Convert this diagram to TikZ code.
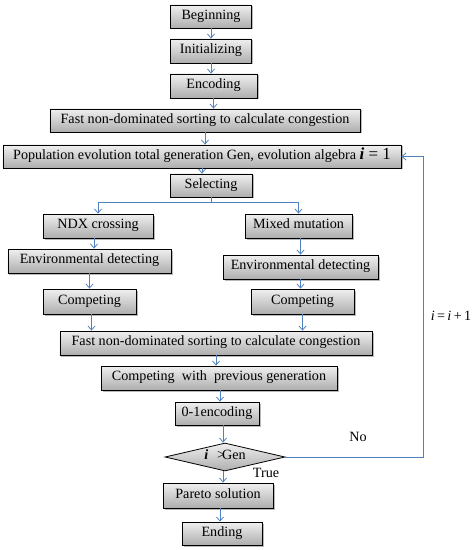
\documentclass[tikz,border=0pt]{standalone}
\usepackage{fontspec}
\setmainfont{Liberation Serif}
\usepackage{xcolor}
\usepackage{tikz}
\usetikzlibrary{
  arrows.meta,
  shadows,
  shapes.geometric
}
\definecolor{flowblue}{RGB}{79,129,189}
\begin{document}
\begin{tikzpicture}[x=1bp, y=-1bp,
    every node/.style={font=\fontsize{14.2}{16}\selectfont, text height=1.5ex, text depth=.25ex},
    field/.style={draw, rectangle, thick, inner sep=0pt, top color=white!94!black, bottom color=white!68!black,
      drop shadow={shadow xshift=1.5bp, shadow yshift=-1.5bp, fill=black!55}},
    decision/.style={draw, diamond, thick, inner sep=0pt, aspect=4.3, top color=white!94!black, bottom color=white!68!black},
    flow/.style={draw=flowblue, thick, -{Straight Barb[length=4bp, width=7bp]}},
    plain/.style={text height=, text depth=}]
\useasboundingbox (0,0) rectangle (475,550);
\node [field, minimum width=81bp, minimum height=23bp] (begin) at (211,16.5) {Beginning};
\node [field, minimum width=81bp, minimum height=24bp] (init) at (211,51) {Initializing};
\node [field, minimum width=87bp, minimum height=24bp] (enc) at (213.5,86) {Encoding};
\node [field, minimum width=310bp, minimum height=23bp] (fast1) at (205,120.5) {Fast non-dominated sorting to calculate congestion};
\node [field, minimum width=398bp, minimum height=23bp] (pop) at (202,156.5)
  {Population evolution total generation Gen, evolution algebra {\fontsize{17}{17}\selectfont\textbf{\textit{i}} = 1}};
\node [field, minimum width=82bp, minimum height=23bp] (sel) at (211,185.5) {Selecting};
\node [field, minimum width=110bp, minimum height=24bp] (ndx) at (98,226) {NDX crossing};
\node [field, minimum width=107bp, minimum height=24bp] (mix) at (298.5,226) {Mixed mutation};
\node [field, minimum width=163bp, minimum height=24bp] (envl) at (89.5,261) {Environmental detecting};
\node [field, minimum width=155bp, minimum height=24bp] (envr) at (300.5,267) {Environmental detecting};
\node [field, minimum width=93bp, minimum height=25bp] (compl) at (89.5,301.5) {Competing};
\node [field, minimum width=103bp, minimum height=25bp] (compr) at (302.5,301.5) {Competing};
\node [field, minimum width=312bp, minimum height=24bp] (fast2) at (216,343) {Fast non-dominated sorting to calculate congestion};
\node [field, minimum width=236bp, minimum height=24bp] (prev) at (219,378) {Competing\ \ with\ \ previous generation};
\node [field, minimum width=84bp, minimum height=23bp] (zeroone) at (217,413.5) {0-1encoding};
\node [decision, minimum width=120bp, minimum height=28bp] (check) at (225,457)
  {\textbf{\textit{i}}\hspace{9bp}>\hspace{-3bp}Gen};
\node [field, minimum width=110bp, minimum height=25bp] (pareto) at (218,495.5) {Pareto solution};
\node [field, minimum width=80bp, minimum height=23bp] (ending) at (222,533.5) {Ending};
\node [plain] (nolabel) at (358,437) {No};
\node [plain] (truelabel) at (266,473) {True};
\node [plain] (inc) at (451,316) {\textit{i}\,=\,\textit{i}\,+\,1};
\draw [flow] (begin) -- (init);
\draw [flow] (init.south) -- (init.south |- enc.north);
\draw [flow] (enc.south) -- (enc.south |- fast1.north);
\draw [flow] (fast1.south) -- (fast1.south |- pop.north);
\draw [flow] (pop.south) -- (pop.south |- sel.north);
\draw [flow] (sel.south) -- ++(0,5) -| (ndx.north);
\draw [flow] (sel.south) -- ++(0,5) -| (mix.north);
\draw [flow] ([xshift=-4bp]ndx.south) -- ([xshift=-4bp]ndx.south |- envl.north);
\draw [flow] (envl.south) -- (envl.south |- compl.north);
\draw [flow] ([xshift=2bp]compl.south) -- ([xshift=2bp]compl.south |- fast2.north);
\draw [flow] ([xshift=2bp]mix.south) -- ([xshift=2bp]mix.south |- envr.north);
\draw [flow] (envr.south) -- (envr.south |- compr.north);
\draw [flow] (compr.south) -- (compr.south |- fast2.north);
\draw [flow] (fast2.south) -- (fast2.south |- prev.north);
\draw [flow] ([xshift=1bp]prev.south) -- ([xshift=1bp]prev.south |- zeroone.north);
\draw [flow] ([xshift=6bp]zeroone.south) -- ([xshift=6bp]zeroone.south |- check.north);
\draw [flow] ([xshift=-2bp]check.south) -- ([xshift=-2bp]check.south |- pareto.north);
\draw [flow] ([xshift=2bp]pareto.south) -- ([xshift=2bp]pareto.south |- ending.north);
\draw [flow] (check.east) -- ++(138,0) |- (pop.east);
\end{tikzpicture}
\end{document}
